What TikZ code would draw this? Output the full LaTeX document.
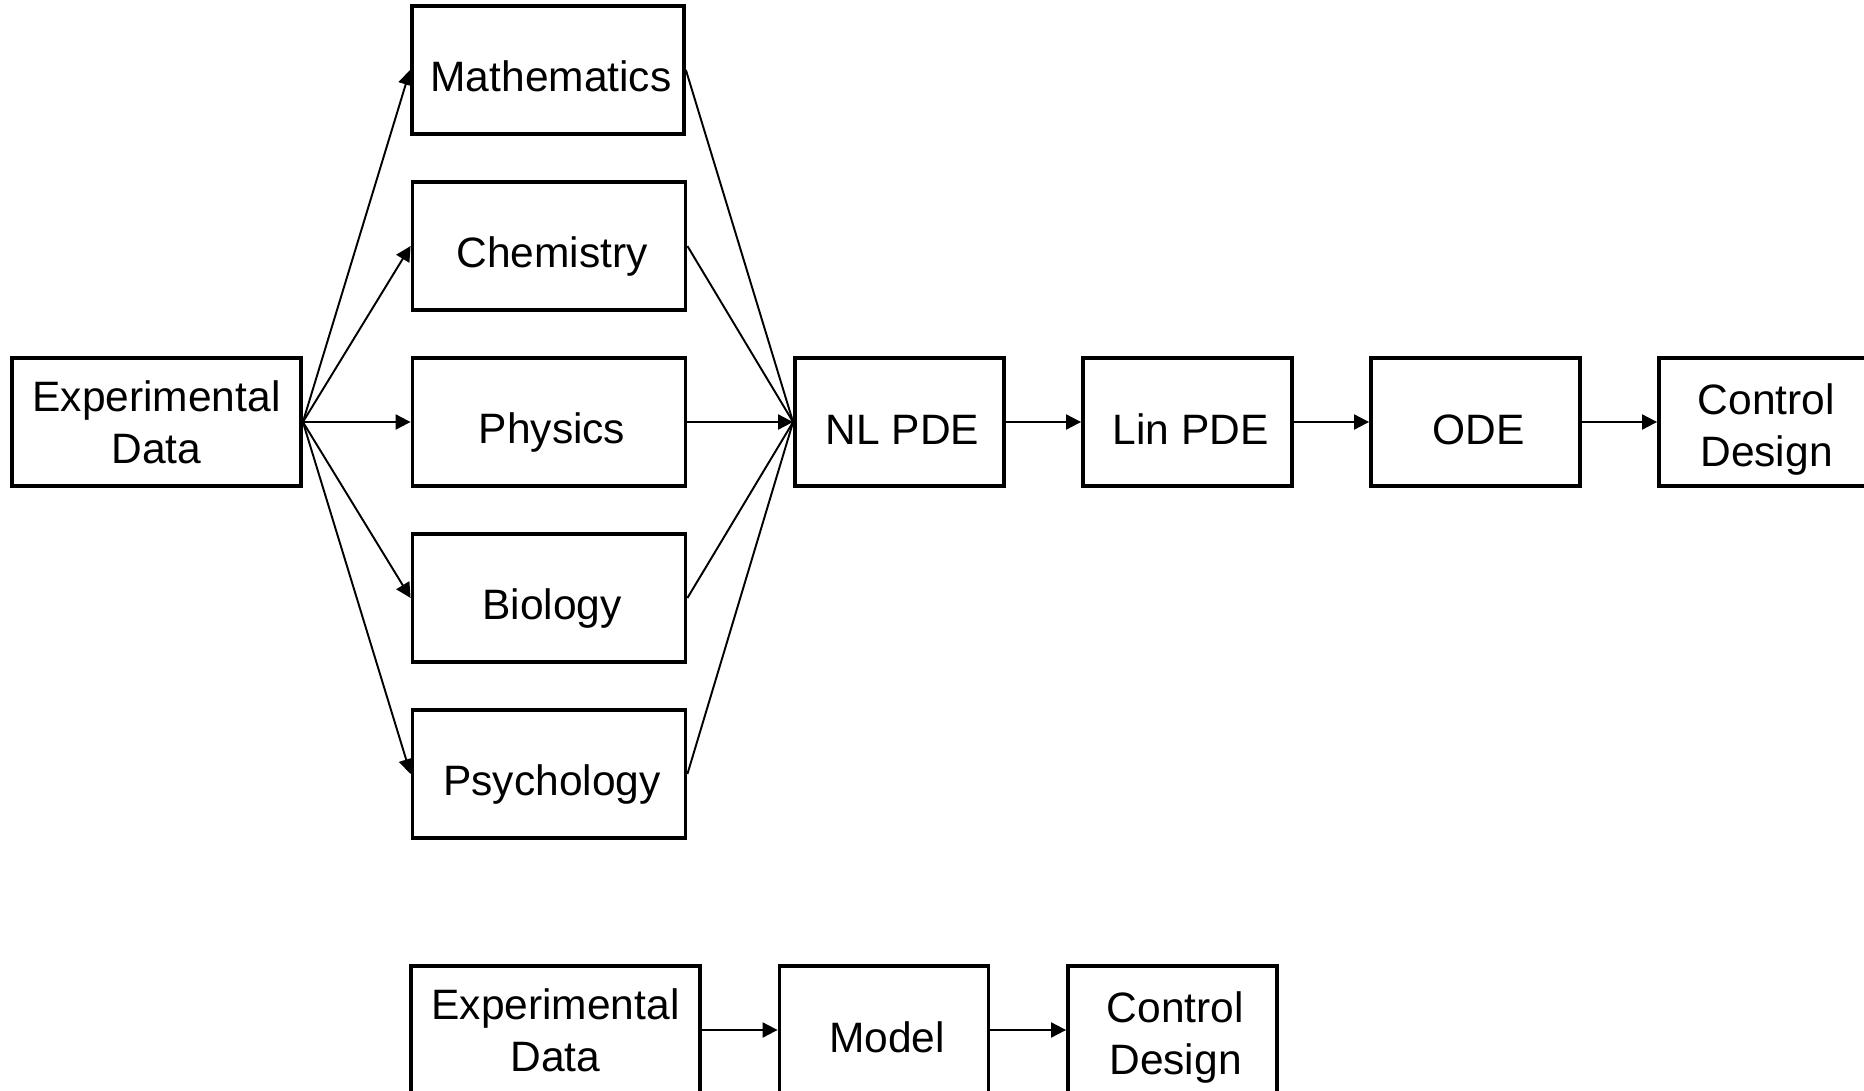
\documentclass[tikz,border=0pt]{standalone}
\usepackage{fontspec}
\setmainfont{Liberation Sans}
\usetikzlibrary{arrows.meta}
\begin{document}
\begin{tikzpicture}[x=0.02cm,y=-0.02cm,
  blk/.style={draw=black,line width=2.2pt,minimum height=2.56cm,inner sep=0pt},
  txt/.style={font=\fontsize{24.2}{29.6}\selectfont,align=center,inner sep=0pt,yshift=-0.21cm,xshift=0.06cm},
  txtr/.style={font=\fontsize{24.2}{29.6}\selectfont,align=center,inner sep=0pt,yshift=-0.15cm,xshift=0.06cm},
  txtz/.style={font=\fontsize{24.2}{29.6}\selectfont,align=center,inner sep=0pt},
  t/.style={label={[txt]center:#1}},
  tr/.style={label={[txtr]center:#1}},
  tz/.style={label={[txtz]center:#1}},
  wide/.style={minimum width=5.78cm},
  mid/.style={minimum width=5.46cm},
  narrow/.style={minimum width=4.18cm},
  conn/.style={line width=1.1pt,-{Triangle[length=0.3cm,width=0.3cm]}},
  plain/.style={line width=1.1pt}]
\useasboundingbox (0,0) rectangle (1864,1091);
\node[blk,wide,tz={Experimental\\Data}] (exp) at (156.5,422) {};
\node[blk,mid,minimum width=5.44cm,label={[txt,yshift=0.09cm]center:Mathematics}] (math) at (548,70) {};
\node[blk,mid,t=Chemistry] (chem) at (549,246) {};
\node[blk,mid,t=Physics] (phys) at (549,422) {};
\node[blk,mid,t=Biology] (bio) at (549,598) {};
\node[blk,mid,t=Psychology] (psy) at (549,774) {};
\node[blk,narrow,tr=NL PDE] (nl) at (899.5,422) {};
\node[blk,narrow,tr=Lin PDE] (lin) at (1187.5,422) {};
\node[blk,narrow,tr=ODE] (ode) at (1475.5,422) {};
\node[blk,narrow,tr={Control\\Design}] (ctrl) at (1763.5,422) {};
\node[blk,wide,tz={Experimental\\Data}] (exp2) at (555.5,1030) {};
\node[blk,narrow,tr=Model] (model) at (884,1030) {};
\node[blk,narrow,tr={Control\\Design}] (ctrl2) at (1172.5,1030) {};
\foreach \n in {math,chem,phys,bio,psy}{
  \draw[conn] (exp.east) -- (\n.west);
}
\foreach \n in {math,chem,bio,psy}{
  \draw[plain] (\n.east) -- (nl.west);
}
\draw[conn] (phys.east) -- (nl.west);
\draw[conn] (nl) -- (lin);
\draw[conn] (lin) -- (ode);
\draw[conn] (ode) -- (ctrl);
\draw[conn] (exp2) -- (model);
\draw[conn] (model) -- (ctrl2);
\end{tikzpicture}
\end{document}
